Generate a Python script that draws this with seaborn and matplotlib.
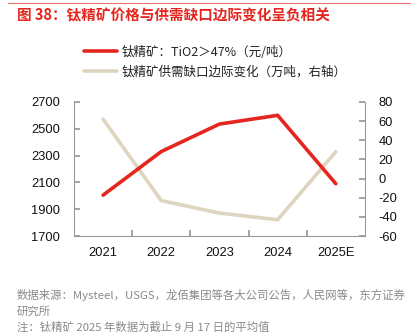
import matplotlib
matplotlib.use("Agg")
import matplotlib.pyplot as plt
import seaborn as sns
import pandas as pd
from matplotlib.lines import Line2D

years = ["2021", "2022", "2023", "2024", "2025E"]
price = [2005, 2330, 2535, 2600, 2090]
gap = [62, -23, -36, -43, 28]
left_ticks = [1700, 1900, 2100, 2300, 2500, 2700]
right_ticks = [-60, -40, -20, 0, 20, 40, 60, 80]
label_price = "钛精矿：TiO2＞47%（元/吨）"
label_gap = "钛精矿供需缺口边际变化（万吨，右轴）"
title = "图 38：钛精矿价格与供需缺口边际变化呈负相关"
source1 = "数据来源：Mysteel，USGS，龙佰集团等各大公司公告，人民网等，东方证券"
source2 = "研究所"
note = "注：钛精矿 2025 年数据为截止 9 月 17 日的平均值"

sns.set_theme(style="white")
plt.rcParams['font.family'] = ['Noto Sans CJK SC', 'DejaVu Sans']
plt.rcParams['axes.unicode_minus'] = False

RED = "#E5261F"
BEIGE = "#DED5C0"
GRAY = "#8A8A8A"
NUMFONT = ['Liberation Sans', 'DejaVu Sans']

df = pd.DataFrame({"x": range(len(years)), "price": price, "gap": gap})

fig = plt.figure(figsize=(4.18, 3.32), dpi=100)
ax = fig.add_axes([0.177, 0.289, 0.696, 0.404])
ax2 = ax.twinx()

sns.lineplot(data=df, x="x", y="gap", ax=ax2, color=BEIGE, lw=2.6, legend=False)
sns.lineplot(data=df, x="x", y="price", ax=ax, color=RED, lw=2.6, legend=False)
ax.set_zorder(ax2.get_zorder() + 1)
ax.patch.set_visible(False)

ax.set_xlim(-0.5, len(years) - 0.5)
ax.set_ylim(1700, 2700)
ax2.set_ylim(-60, 80)
ax.set_yticks(left_ticks)
ax2.set_yticks(right_ticks)
ax.set_xticks([i + 0.5 for i in range(len(years) - 1)], minor=False)
ax.set_xticklabels([])
ax.set_xticks(list(range(len(years))), minor=True)
ax.set_xticklabels(years, minor=True)
ax.set_xlabel("")
ax.set_ylabel("")
ax2.set_ylabel("")

for a in (ax, ax2):
    for s in a.spines.values():
        s.set_color("#999999")
        s.set_linewidth(0.8)
    a.spines["top"].set_visible(False)
ax.spines["right"].set_visible(False)
ax2.spines["left"].set_visible(False)
ax2.spines["bottom"].set_visible(False)

ax.tick_params(axis="y", which="both", direction="in", length=4, color="#999999",
               labelsize=9.3, labelcolor="#111111", pad=10, left=True)
ax2.tick_params(axis="y", direction="in", length=4, color="#999999",
                labelsize=9.3, labelcolor="#111111", pad=10, right=True)
ax.tick_params(axis="x", which="major", direction="in", length=4, color="#999999", bottom=True)
ax.tick_params(axis="x", which="minor", length=0, labelsize=9.3, labelcolor="#111111", pad=8)
for lab in ax.get_yticklabels() + ax2.get_yticklabels() + ax.get_xticklabels(minor=True):
    lab.set_family(NUMFONT)

fig.add_artist(Line2D([0.02, 0.98], [0.99, 0.99], color="#E8736E", lw=0.8))
fig.text(0.04, 0.955, title, color=RED, fontsize=10.5, fontweight="bold", va="center", ha="left")

handles = [Line2D([], [], color=RED, lw=2.6), Line2D([], [], color=BEIGE, lw=2.6)]
fig.legend(handles, [label_price, label_gap], loc="center left", bbox_to_anchor=(0.175, 0.813),
           frameon=False, fontsize=9, handlelength=2.6, handletextpad=0.4, labelspacing=0.55,
           labelcolor="#222222")

fig.text(0.04, 0.11, source1, color=GRAY, fontsize=8.2, va="center", ha="left")
fig.text(0.04, 0.063, source2, color=GRAY, fontsize=8.2, va="center", ha="left")
fig.text(0.04, 0.016, note, color=GRAY, fontsize=8.2, va="center", ha="left")

fig.savefig("out.png", dpi=100)
